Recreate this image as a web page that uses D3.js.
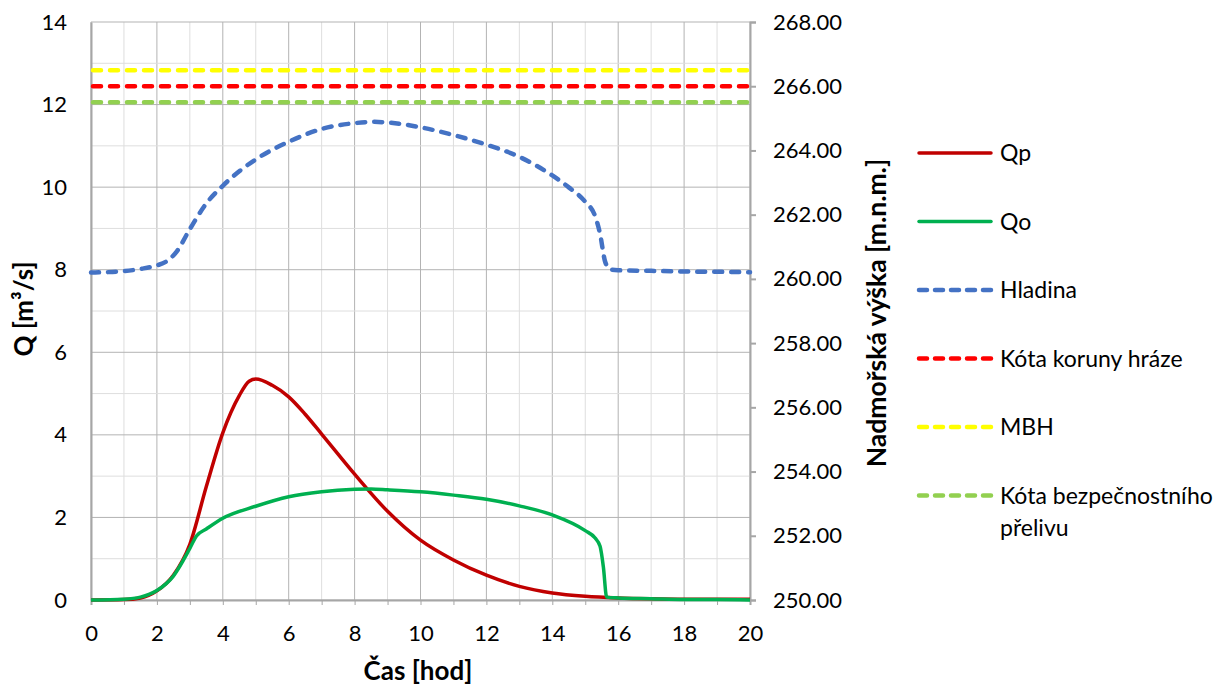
<!DOCTYPE html>
<html>
<head>
<meta charset="utf-8">
<script src="https://cdn.jsdelivr.net/npm/d3@7"></script>
<style>
  body { margin: 0; background: #fff; }
  text { font-family: Lato, "Open Sans", sans-serif; fill: #000; }
</style>
</head>
<body>
<div id="chart"></div>
<script>
// cas [hod] a hodnoty jednotlivych rad
const hodQp = [0, 1, 1.5, 2, 2.5, 3, 3.5, 4, 4.5, 4.8, 5, 5.5, 6, 6.5, 7, 8, 9, 10, 11, 12, 13, 14, 15, 16, 17, 18, 19, 20];
const qp = [0, 0.01, 0.05, 0.22, 0.6, 1.35, 2.75, 4.05, 4.95, 5.3, 5.35, 5.2, 4.92, 4.5, 4.02, 3.05, 2.15, 1.45, 0.97, 0.6, 0.33, 0.17, 0.09, 0.05, 0.03, 0.02, 0.02, 0.02];

const hodQo = [0, 1, 1.5, 2, 2.5, 3, 3.2, 3.5, 4, 5, 6, 7, 8, 8.5, 9, 10, 11, 12, 13, 14, 15, 15.3, 15.45, 15.55, 15.65, 16, 17, 18, 19, 20];
const qo = [0, 0.02, 0.07, 0.23, 0.58, 1.25, 1.55, 1.72, 1.98, 2.27, 2.5, 2.62, 2.68, 2.69, 2.67, 2.62, 2.54, 2.44, 2.28, 2.06, 1.68, 1.5, 1.3, 0.8, 0.07, 0.05, 0.03, 0.01, 0.01, 0];

const hodHladina = [0, 0.5, 1, 1.5, 2, 2.3, 2.6, 3, 3.5, 4, 4.5, 5, 6, 7, 8, 8.6, 9, 10, 11, 12, 13, 14, 14.5, 15, 15.3, 15.45, 15.6, 15.75, 16, 17, 18, 19, 20];
const hladina = [260.20, 260.21, 260.24, 260.31, 260.42, 260.55, 260.85, 261.55, 262.35, 262.9, 263.35, 263.72, 264.27, 264.67, 264.85, 264.89, 264.87, 264.72, 264.48, 264.18, 263.8, 263.22, 262.85, 262.4, 261.95, 261.4, 260.55, 260.3, 260.27, 260.25, 260.23, 260.22, 260.21];

const kotaKoruny = 266.0;
const mbh = 266.5;
const kotaPrelivu = 265.5;

const xTicks = d3.range(0, 21, 2);
const yLeftTicks = d3.range(0, 15, 2);
const yRightTicks = d3.range(250, 269, 2);

const legendNames = ["Qp", "Qo", "Hladina", "Kóta koruny hráze", "MBH", "Kóta bezpečnostního|přelivu"];
const legendColors = ["#c00000", "#00b050", "#4472c4", "#ff0000", "#ffff00", "#92d050"];
const legendDashed = [false, false, true, true, true, true];

const width = 1226, height = 689;
const mLeft = 91, mRight = 750, mTop = 22, mBottom = 600;

const svg = d3.select("#chart").append("svg")
    .attr("width", width)
    .attr("height", height);

const x = d3.scaleLinear().domain([0, 20]).range([mLeft, mRight]);
const yL = d3.scaleLinear().domain([0, 14]).range([mBottom, mTop]);
const yR = d3.scaleLinear().domain([250, 268]).range([mBottom, mTop]);

// mrizka - vedlejsi a hlavni
const grid = svg.append("g");
d3.range(0, 21, 1).forEach(function (h) {
    grid.append("line")
        .attr("x1", x(h)).attr("x2", x(h))
        .attr("y1", mTop).attr("y2", mBottom)
        .attr("stroke", h % 2 === 0 ? "#b3b3b3" : "#dedede")
        .attr("stroke-width", 1);
});
d3.range(0, 15, 1).forEach(function (q) {
    grid.append("line")
        .attr("x1", mLeft).attr("x2", mRight)
        .attr("y1", yL(q)).attr("y2", yL(q))
        .attr("stroke", q % 2 === 0 ? "#b3b3b3" : "#dedede")
        .attr("stroke-width", 1);
});

// osy
const axisColor = "#a6a6a6";
const xAxis = svg.append("g")
    .attr("transform", "translate(0," + mBottom + ")")
    .call(d3.axisBottom(x).tickValues(d3.range(0, 21, 1)).tickSize(5).tickFormat(function (d) {
        return xTicks.indexOf(d) >= 0 ? d : "";
    }));
xAxis.select(".domain").attr("stroke", axisColor).attr("stroke-width", 2);
xAxis.selectAll(".tick line").attr("stroke", axisColor);
xAxis.selectAll("text").attr("font-size", 22).attr("dy", "1.5em");

const yAxisL = svg.append("g")
    .attr("transform", "translate(" + mLeft + ",0)")
    .call(d3.axisLeft(yL).tickValues(yLeftTicks).tickSize(0).tickPadding(24));
yAxisL.select(".domain").attr("stroke", axisColor).attr("stroke-width", 2);
yAxisL.selectAll("text").attr("font-size", 22);

const yAxisR = svg.append("g")
    .attr("transform", "translate(" + mRight + ",0)")
    .call(d3.axisRight(yR).tickValues(yRightTicks).tickSize(6).tickPadding(17).tickFormat(d3.format(".2f")));
yAxisR.select(".domain").attr("stroke", axisColor).attr("stroke-width", 2);
yAxisR.selectAll(".tick line").attr("stroke", axisColor).attr("stroke-width", 2);
yAxisR.selectAll("text").attr("font-size", 22);

// nazvy os
svg.append("text")
    .attr("transform", "translate(33,309) rotate(-90)")
    .attr("text-anchor", "middle")
    .attr("font-size", 26).attr("font-weight", "bold")
    .text("Q [m³/s]");
svg.append("text")
    .attr("transform", "translate(886,313) rotate(-90)")
    .attr("text-anchor", "middle")
    .attr("font-size", 26.5).attr("font-weight", "bold")
    .text("Nadmořská výška [m.n.m.]");
svg.append("text")
    .attr("x", 418).attr("y", 680)
    .attr("text-anchor", "middle")
    .attr("font-size", 26).attr("font-weight", "bold")
    .text("Čas [hod]");

// vodorovne koty
const dash = "8,9";
[[mbh, "#ffff00"], [kotaKoruny, "#ff0000"], [kotaPrelivu, "#92d050"]].forEach(function (k) {
    svg.append("line")
        .attr("x1", x(0) + 2).attr("x2", x(20) - 2)
        .attr("y1", yR(k[0])).attr("y2", yR(k[0]))
        .attr("stroke", k[1])
        .attr("stroke-width", 4.5)
        .attr("stroke-linecap", "round")
        .attr("stroke-dasharray", dash);
});

// hladina
const lineR = d3.line()
    .x(function (d) { return x(d[0]); })
    .y(function (d) { return yR(d[1]); })
    .curve(d3.curveMonotoneX);
svg.append("path")
    .datum(d3.zip(hodHladina, hladina))
    .attr("d", lineR)
    .attr("fill", "none")
    .attr("stroke", "#4472c4")
    .attr("stroke-width", 4.5)
    .attr("stroke-linecap", "round")
    .attr("stroke-dasharray", dash);

// prutoky
const lineL = d3.line()
    .x(function (d) { return x(d[0]); })
    .y(function (d) { return yL(d[1]); })
    .curve(d3.curveMonotoneX);
svg.append("path")
    .datum(d3.zip(hodQp, qp))
    .attr("d", lineL)
    .attr("fill", "none")
    .attr("stroke", "#c00000")
    .attr("stroke-width", 3.5);
svg.append("path")
    .datum(d3.zip(hodQo, qo))
    .attr("d", lineL)
    .attr("fill", "none")
    .attr("stroke", "#00b050")
    .attr("stroke-width", 3.5);

// legenda
const legend = svg.append("g");
legendNames.forEach(function (name, i) {
    const ly = 153 + i * 68.5;
    legend.append("line")
        .attr("x1", 919).attr("x2", 991)
        .attr("y1", ly).attr("y2", ly)
        .attr("stroke", legendColors[i])
        .attr("stroke-width", legendDashed[i] ? 4.5 : 3.5)
        .attr("stroke-linecap", "round")
        .attr("stroke-dasharray", legendDashed[i] ? "8,8" : null);
    const parts = name.split("|");
    parts.forEach(function (p, j) {
        legend.append("text")
            .attr("x", 1000)
            .attr("y", ly + j * 32)
            .attr("dy", "0.35em")
            .attr("font-size", 23)
            .text(p);
    });
});
</script>
</body>
</html>
